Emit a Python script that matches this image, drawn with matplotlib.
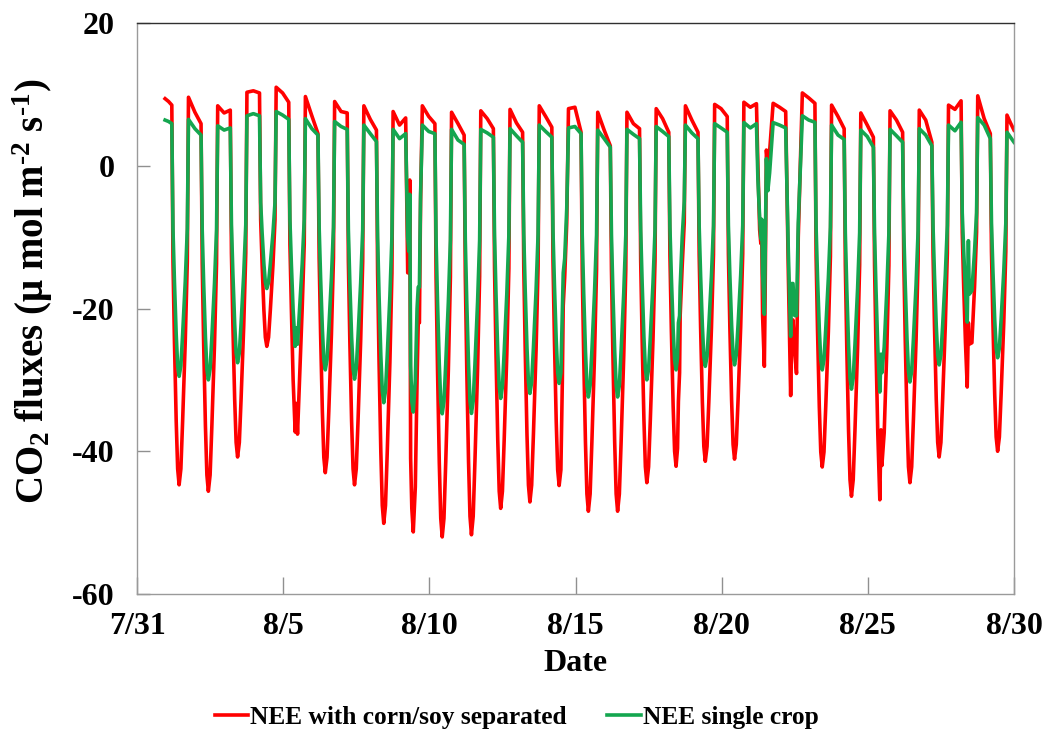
import matplotlib
matplotlib.use("Agg")
import matplotlib.pyplot as plt

# ---- data (days counted from 7/31 00:00) ----
tick_days = [0, 5, 10, 15, 20, 25, 30]
tick_labels = ["7/31", "8/5", "8/10", "8/15", "8/20", "8/25", "8/30"]

# night plateaus k=1..30 : value at start, middle, end of each night
red_night_start = [9.4, 9.6, 8.4, 10.3, 11.0, 9.7, 9.0, 8.4, 7.6, 8.4, 7.5, 7.7, 7.9, 8.4, 8.0,
                   7.5, 7.5, 8.0, 8.4, 8.6, 8.9, 8.75, 10.2, 8.5, 7.4, 7.7, 7.8, 8.5, 9.8, 7.1]
red_night_mid = [9.0, 7.5, 7.4, 10.5, 10.2, 7.0, 7.6, 6.5, 5.7, 6.9, 5.9, 6.6, 6.0, 6.9, 8.2,
                 5.0, 5.9, 6.6, 6.4, 8.0, 8.2, 8.2, 9.5, 6.9, 5.7, 6.4, 6.4, 7.9, 6.6, 6.0]
red_night_end = [8.5, 5.9, 7.8, 10.2, 8.9, 4.5, 7.4, 5.0, 6.7, 5.9, 4.3, 5.2, 4.7, 5.4, 4.7,
                 2.8, 5.2, 4.7, 4.7, 6.9, 8.7, 7.6, 8.75, 5.2, 4.0, 4.7, 3.3, 9.1, 4.5, 5.0]
green_night_start = [6.4, 6.5, 5.6, 7.0, 7.6, 6.6, 6.2, 5.7, 5.1, 5.7, 5.1, 5.1, 5.2, 5.7, 5.3,
                     5.0, 5.1, 5.5, 5.7, 5.9, 6.05, 6.05, 7.0, 5.7, 5.0, 5.1, 5.2, 5.7, 6.75, 4.7]
green_night_mid = [6.2, 5.2, 5.0, 7.3, 7.1, 5.2, 5.5, 4.5, 3.8, 4.8, 3.6, 4.6, 4.2, 4.8, 5.5,
                   3.8, 4.4, 4.8, 4.6, 5.3, 5.3, 5.7, 6.4, 4.3, 4.1, 4.2, 4.3, 4.9, 5.7, 4.0]
green_night_end = [5.9, 4.3, 5.3, 7.0, 6.5, 4.3, 5.1, 3.4, 4.5, 4.5, 3.0, 4.0, 3.3, 4.0, 4.5,
                   2.6, 3.8, 4.1, 3.8, 4.7, 5.9, 5.3, 6.1, 3.7, 2.6, 3.3, 2.8, 6.1, 3.8, 3.3]

# midday minimum of each day d=1..29 (8/1 .. 8/29)
red_trough = [-44.7, -45.6, -40.8, -25.3, -37.6, -43.0, -44.7, -50.1, -51.3, -52.0,
              -51.7, -48.0, -47.1, -44.8, -48.4, -48.4, -44.4, -42.1, -41.4, -41.1,
              -28.1, -32.2, -42.2, -46.3, -46.8, -44.4, -40.8, -31.0, -40.0]
green_trough = [-29.5, -30.0, -27.6, -17.2, -25.2, -28.6, -29.9, -33.2, -34.5, -34.75,
                -34.7, -32.6, -31.9, -30.5, -32.4, -32.4, -30.0, -28.6, -28.1, -27.9,
                -20.8, -23.9, -28.6, -31.3, -31.7, -30.3, -27.9, -21.9, -26.9]

# typical shape of the daytime dip (time of day, share of the day's minimum)
dip_hours = [0.23, 0.28, 0.34, 0.39, 0.44, 0.50, 0.56, 0.65, 0.72]
dip_share = [0.3, 0.55, 0.8, 0.95, 1.0, 0.95, 0.8, 0.55, 0.3]

# days with gaps / jumps in the record
aug5_t = [0.23, 0.28, 0.34, 0.41, 0.45, 0.49, 0.56, 0.65, 0.72]
aug5_red = [-11, -20, -30, -37.3, -33.3, -37.6, -30, -20, -11]
aug5_green = [-7.5, -13.8, -20.2, -25.3, -22.7, -25.0, -20.2, -13.8, -7.5]

aug9_t = [0.26, 0.30, 0.33, 0.36, 0.40, 0.45, 0.52, 0.58, 0.62, 0.66, 0.70]
aug9_red = [-15, -15, -2, -41, -48, -51.3, -45, -30, -22, -22, -5]
aug9_green = [-10, -12, -4, -28, -33, -34.5, -30, -20, -17, -17, -4]

aug14_t = [0.23, 0.28, 0.34, 0.39, 0.44, 0.50, 0.55, 0.58, 0.63, 0.70]
aug14_red = [-13.4, -24.6, -35.8, -42.6, -44.8, -42.6, -30, -19.6, -15.6, -8]
aug14_green = [-9.2, -16.8, -24.4, -29, -30.5, -29, -20, -15, -13, -6]

aug18_t = [0.23, 0.28, 0.34, 0.39, 0.44, 0.49, 0.52, 0.56, 0.58, 0.65, 0.72]
aug18_red = [-12.6, -23.2, -33.7, -40, -42.1, -39.6, -33, -29, -21, -14, -8]
aug18_green = [-8.6, -15.7, -22.9, -27.2, -28.6, -26.9, -22, -21, -17, -10, -5]

aug21_t = [0.24, 0.30, 0.34, 0.37, 0.40, 0.46, 0.48, 0.53, 0.58, 0.64]
aug21_red = [0, -9, -10.9, -9, -21, -28.1, -21, 2.2, 0, 2]
aug21_green = [-2, -7.3, -10.2, -7.5, -15, -20.8, -15, 1.0, -3.5, -1]

aug22_t = [0.28, 0.36, 0.40, 0.44, 0.50, 0.56, 0.62]
aug22_red = [-15, -32.2, -24, -21.6, -26, -29.1, -10]
aug22_green = [-12, -23.9, -16.5, -16.5, -21, -21, -8]

aug25_t = [0.23, 0.28, 0.34, 0.41, 0.45, 0.48, 0.56, 0.65, 0.72]
aug25_red = [-14, -25.7, -37.4, -46.8, -37, -42, -37.4, -25.7, -14]
aug25_green = [-9.5, -17.4, -25.4, -31.7, -26.4, -29, -25.4, -17.4, -9.5]

aug28_t = [0.23, 0.28, 0.34, 0.40, 0.44, 0.47, 0.56, 0.65, 0.72]
aug28_red = [-9.3, -17, -24.8, -31.0, -22, -25, -24.8, -17, -9.3]
aug28_green = [-6.6, -12, -17.5, -21.9, -10.5, -18, -17.5, -12, -6.6]

irregular = {5: (aug5_t, aug5_red, aug5_green),
             9: (aug9_t, aug9_red, aug9_green),
             14: (aug14_t, aug14_red, aug14_green),
             18: (aug18_t, aug18_red, aug18_green),
             21: (aug21_t, aug21_red, aug21_green),
             22: (aug22_t, aug22_red, aug22_green),
             25: (aug25_t, aug25_red, aug25_green),
             28: (aug28_t, aug28_red, aug28_green)}

# ---- assemble the record ----
t, red, green = [], [], []
for k in range(1, 31):
    if k == 1:
        times = [0.96, 1.08, 1.19]
    elif k == 30:
        times = [29.76, 29.88, 30.0]
    else:
        times = [k - 0.24, k - 0.02, k + 0.19]
    t += times
    red += [red_night_start[k - 1], red_night_mid[k - 1], red_night_end[k - 1]]
    green += [green_night_start[k - 1], green_night_mid[k - 1], green_night_end[k - 1]]
    if k < 30:
        d = k
        if d in irregular:
            dt, dr, dg = irregular[d]
            t += [d + h for h in dt]
            red += dr
            green += dg
        else:
            t += [d + h for h in dip_hours]
            red += [s * red_trough[d - 1] for s in dip_share]
            green += [s * green_trough[d - 1] for s in dip_share]

plt.rcParams['font.family'] = ['Liberation Serif', 'DejaVu Serif']
plt.rcParams['font.weight'] = 'bold'
plt.rcParams['axes.unicode_minus'] = False
plt.rcParams['mathtext.fontset'] = 'custom'
plt.rcParams['mathtext.rm'] = 'Liberation Serif:bold'
plt.rcParams['mathtext.it'] = 'Liberation Serif:bold'
plt.rcParams['mathtext.bf'] = 'Liberation Serif:bold'
plt.rcParams['mathtext.default'] = 'rm'

fig = plt.figure(figsize=(10.46, 7.4), dpi=100)
ax = fig.add_axes([0.131, 0.1973, 0.8384, 0.7716])

ax.plot(t, red, color='#FF0000', lw=2.6, label='NEE with corn/soy separated',
        solid_joinstyle='round')
ax.plot(t, green, color='#14A64F', lw=2.6, label='NEE single crop',
        solid_joinstyle='round')

ax.set_xlim(0, 30)
ax.set_ylim(-60, 20)
ax.set_yticks([-60, -40, -20, 0, 20])
ax.set_xticks(tick_days)
ax.set_xticklabels(tick_labels)
ax.tick_params(axis='y', direction='in', length=9, width=1, color='#909090',
               labelsize=23, pad=16)
ax.tick_params(axis='x', direction='in', length=12, width=1, color='#909090',
               labelsize=23, pad=13)

for side in ['left', 'bottom', 'right']:
    ax.spines[side].set_color('#9a9a9a')
ax.spines['top'].set_color('#303030')
for s in ax.spines.values():
    s.set_linewidth(1)

ax.set_xlabel('Date', fontsize=23, fontweight='bold', labelpad=6)
ax.set_ylabel('CO$_{2}$ fluxes (\u03bc mol m$^{\\text{-2}}$ s$^{\\text{-1}}$)',
              fontsize=28, fontweight='bold')
ax.yaxis.set_label_coords(-0.094, 0.53)

fig.legend(loc='center', bbox_to_anchor=(0.494, 0.03), ncol=2, frameon=False,
           fontsize=18.3, handlelength=1.3, handletextpad=0.1, columnspacing=1.6)

plt.savefig('out.png', dpi=100)
